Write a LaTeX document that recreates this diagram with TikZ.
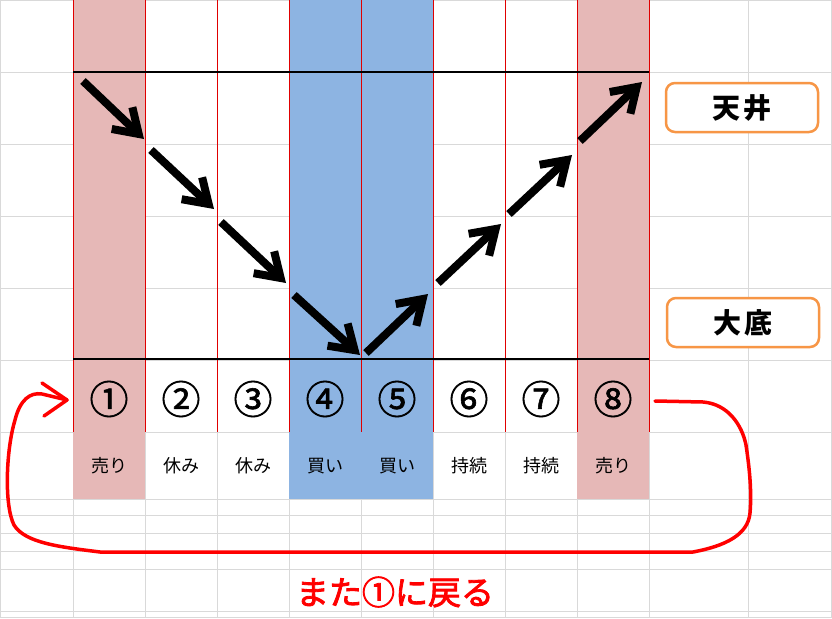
\documentclass[tikz,border=0pt]{standalone}
\usepackage{fontspec}
\setmainfont{Noto Sans CJK JP}
\newfontfamily\medcjk[FakeBold=2.5]{Noto Sans CJK JP}
\newfontfamily\numcjk[FakeBold=1.5]{Noto Sans CJK JP}
\usetikzlibrary{arrows.meta}
\definecolor{pinkc}{HTML}{E6B8B7}
\definecolor{bluec}{HTML}{8DB4E2}
\definecolor{gridc}{HTML}{D9D9D9}
\definecolor{orangec}{HTML}{F79646}
\definecolor{redc}{HTML}{FF0000}
\definecolor{cellred}{HTML}{E00000}
\tikzset{
  gridline/.style={gridc, line width=1pt},
  cellline/.style={cellred, line width=1pt},
  boldline/.style={black, line width=2pt},
  bigarrow/.style={black, line width=8pt, -{Straight Barb[length=23pt,width=30pt]}},
  numtxt/.style={inner sep=0pt, font=\numcjk\fontsize{39}{40}\selectfont},
  labtxt/.style={inner sep=0pt, font=\fontsize{18}{20}\selectfont},
  tagbox/.style={draw=orangec, line width=2.5pt, rounded corners=9pt, fill=white,
    minimum width=152pt, minimum height=49pt, inner sep=0pt,
    font=\bfseries\fontsize{28}{30}\selectfont},
  loopline/.style={redc, line width=3.5pt, line cap=round, line join=round},
  againtxt/.style={inner sep=0pt, text=redc, font=\medcjk\fontsize{33}{36}\selectfont}
}
\begin{document}
\begin{tikzpicture}[x=1pt,y=-1pt]
\useasboundingbox (0,0) rectangle (832,618);
\fill[white] (0,0) rectangle (832,618);
% spreadsheet grid
\foreach \x in {73,145,217,289,361,433,505,577,649,748}
  \draw[gridline] (\x,0) -- (\x,618);
\foreach \y in {72,144,216,288,360,432,499,515,533,551,569,611}
  \draw[gridline] (0,\y) -- (832,\y);
\draw[gridline] (0.5,0.5) rectangle (831.5,617.5);
% coloured columns
\fill[pinkc] (73,0) rectangle (145,499);
\fill[bluec] (289,0) rectangle (433,499);
\fill[pinkc] (577,0) rectangle (649,499);
% red cell borders
\foreach \x in {73,145,217,289,361,433,505,577,649}
  \draw[cellline] (\x,0) -- (\x,432);
% ceiling / bottom lines
\draw[boldline] (73,72) -- (649,72);
\draw[boldline] (73,359) -- (649,359);
% circled numbers
\node[numtxt] (n1) at (109,399) {①};
\node[numtxt] (n2) at (181,399) {②};
\node[numtxt] (n3) at (253,399) {③};
\node[numtxt] (n4) at (325,399) {④};
\node[numtxt] (n5) at (397,399) {⑤};
\node[numtxt] (n6) at (469,399) {⑥};
\node[numtxt] (n7) at (541,399) {⑦};
\node[numtxt] (n8) at (613,399) {⑧};
% action labels
\node[labtxt] (l1) at (109,466) {売り};
\node[labtxt] (l2) at (181,466) {休み};
\node[labtxt] (l3) at (253,466) {休み};
\node[labtxt] (l4) at (325,466) {買い};
\node[labtxt] (l5) at (397,466) {買い};
\node[labtxt] (l6) at (469,466) {持続};
\node[labtxt] (l7) at (541,466) {持続};
\node[labtxt] (l8) at (613,466) {売り};
% tags
\node[tagbox] (tenjo) at (742,107.5) {天\hspace{4pt}井};
\node[tagbox] (ootei) at (743,322.5) {大\hspace{4pt}底};
% trend arrows
\coordinate (a1s) at (83,81);   \coordinate (a1e) at (144,139);
\coordinate (a2s) at (151,150); \coordinate (a2e) at (214,209);
\coordinate (a3s) at (221,222); \coordinate (a3e) at (286,283);
\coordinate (a4s) at (294,295); \coordinate (a4e) at (360,355);
\coordinate (a5s) at (366,353); \coordinate (a5e) at (428,294);
\coordinate (a6s) at (438,283); \coordinate (a6e) at (501,224);
\coordinate (a7s) at (509,214); \coordinate (a7e) at (572,155);
\coordinate (a8s) at (580,141); \coordinate (a8e) at (642,82);
\foreach \i in {1,...,8}
  \draw[bigarrow] (a\i s) -- (a\i e);
% return loop
\coordinate (loopS) at (655,401);
\coordinate (loopE) at (67,400);
\draw[loopline] (loopS) -- (703,402)
  .. controls (728,404) and (742,425) .. (746,445)
  .. controls (749,465) and (752,490) .. (750,513)
  .. controls (748,535) and (725,546) .. (693,552)
  -- (100,552)
  .. controls (60,547) and (25,543) .. (14,525)
  .. controls (4,505) and (6,450) .. (15,420)
  .. controls (20,400) and (30,392) .. (42,394)
  -- (loopE);
\draw[loopline] (42,383) -- (loopE) -- (44,416);
% caption
\node[againtxt] (again) at (395,592) {また①に戻る};
\end{tikzpicture}
\end{document}
